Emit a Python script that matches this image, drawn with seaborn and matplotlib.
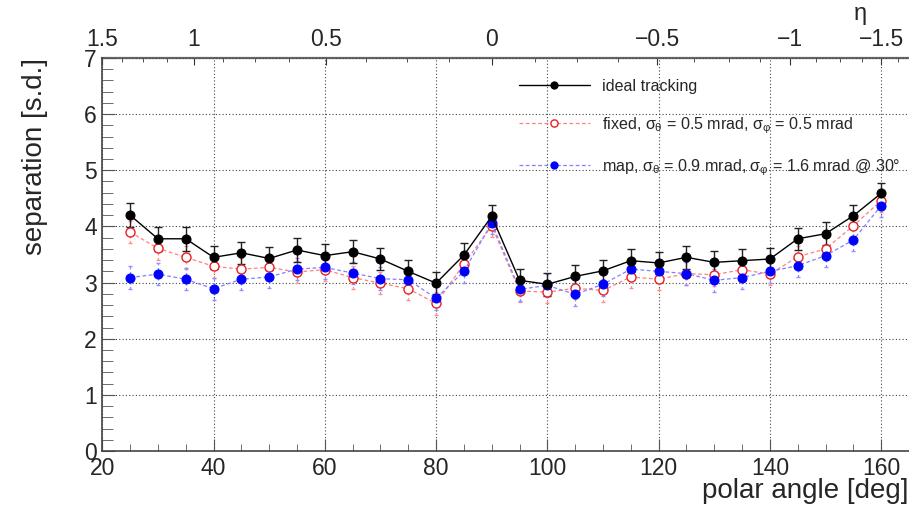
import numpy as np
import pandas as pd
import matplotlib
matplotlib.use("Agg")
import matplotlib.pyplot as plt
import seaborn as sns
from matplotlib.ticker import MultipleLocator, FixedLocator

# polar angle bins [deg]
theta = [25, 30, 35, 40, 45, 50, 55, 60, 65, 70, 75, 80, 85, 90, 95, 100,
         105, 110, 115, 120, 125, 130, 135, 140, 145, 150, 155, 160]

# separation [s.d.]
ideal = [4.20, 3.78, 3.78, 3.45, 3.53, 3.43, 3.58, 3.48, 3.55, 3.42, 3.20, 2.99,
         3.49, 4.18, 3.04, 2.97, 3.11, 3.21, 3.39, 3.35, 3.45, 3.36, 3.39, 3.42,
         3.78, 3.87, 4.19, 4.59]
ideal_err = [0.21, 0.21, 0.21, 0.20, 0.20, 0.20, 0.21, 0.20, 0.20, 0.20, 0.20, 0.20,
             0.21, 0.20, 0.20, 0.20, 0.20, 0.20, 0.21, 0.20, 0.20, 0.20, 0.20, 0.20,
             0.20, 0.20, 0.20, 0.19]

fixed = [3.90, 3.61, 3.45, 3.29, 3.24, 3.27, 3.19, 3.23, 3.09, 2.99, 2.89, 2.63,
         3.33, 4.01, 2.85, 2.83, 2.90, 2.86, 3.10, 3.06, 3.16, 3.14, 3.23, 3.15,
         3.46, 3.60, 4.01, 4.46]
fixed_err = [0.20, 0.20, 0.20, 0.20, 0.20, 0.20, 0.20, 0.20, 0.20, 0.20, 0.20, 0.20,
             0.20, 0.20, 0.20, 0.20, 0.20, 0.20, 0.20, 0.20, 0.20, 0.20, 0.20, 0.20,
             0.20, 0.20, 0.20, 0.20]

mapped = [3.09, 3.15, 3.06, 2.89, 3.06, 3.10, 3.24, 3.27, 3.17, 3.07, 3.05, 2.72,
          3.20, 4.06, 2.88, 2.95, 2.79, 2.97, 3.24, 3.20, 3.16, 3.04, 3.09, 3.20,
          3.30, 3.48, 3.76, 4.37]
mapped_err = [0.20, 0.20, 0.20, 0.20, 0.20, 0.20, 0.20, 0.20, 0.20, 0.20, 0.20, 0.20,
              0.20, 0.20, 0.20, 0.20, 0.20, 0.20, 0.20, 0.20, 0.20, 0.20, 0.20, 0.20,
              0.20, 0.20, 0.20, 0.20]

labels = ["ideal tracking",
          r"fixed, $\sigma_{\theta}$ = 0.5 mrad, $\sigma_{\varphi}$ = 0.5 mrad",
          r"map, $\sigma_{\theta}$ = 0.9 mrad, $\sigma_{\varphi}$ = 1.6 mrad @ 30°"]

eta_major = [1.5, 1.0, 0.5, 0.0, -0.5, -1.0, -1.5]
eta_major_labels = ["1.5", "1", "0.5", "0", "\u22120.5", "\u22121", "\u22121.5"]

sns.set_style("ticks")
plt.rcParams["font.family"] = ["Liberation Sans", "DejaVu Sans"]
plt.rcParams["mathtext.fontset"] = "custom"
plt.rcParams["mathtext.rm"] = "Liberation Sans"
plt.rcParams["mathtext.it"] = "Liberation Sans"

df = pd.DataFrame({"theta": theta, "ideal": ideal, "fixed": fixed, "mapped": mapped})

fig = plt.figure(figsize=(9.09, 5.08), dpi=100)
ax = fig.add_axes([0.1125, 0.112, 0.8875, 0.774])

# error bars first, lines + markers on top
ax.errorbar(theta, fixed, yerr=fixed_err, fmt="none", ecolor="#ff9090",
            elinewidth=0.9, capsize=1.5, zorder=2)
ax.errorbar(theta, mapped, yerr=mapped_err, fmt="none", ecolor="#9090ff",
            elinewidth=0.9, capsize=1.5, zorder=2)
for c in ax.collections:
    c.set_linestyle((0, (2, 2)))
ax.errorbar(theta, ideal, yerr=ideal_err, fmt="none", ecolor="#222222",
            elinewidth=1.0, capsize=3, zorder=3)

sns.lineplot(data=df, x="theta", y="ideal", ax=ax, color="black", lw=1.0,
             marker="o", markersize=6.5, markeredgecolor="black",
             markerfacecolor="black", label=labels[0], zorder=5)
sns.lineplot(data=df, x="theta", y="fixed", ax=ax, color="#ff8080", lw=0.9,
             linestyle=(0, (3, 2)), marker="o", markersize=6.5,
             markerfacecolor="white", markeredgecolor="#e82020",
             markeredgewidth=1.0, label=labels[1], zorder=4)
sns.lineplot(data=df, x="theta", y="mapped", ax=ax, color="#8080ff", lw=0.9,
             linestyle=(0, (3, 2)), marker="o", markersize=6.5,
             markerfacecolor="#0000ff", markeredgecolor="#0000ff",
             label=labels[2], zorder=4)

ax.set_xlim(20, 165)
ax.set_ylim(0, 7)
ax.xaxis.set_major_locator(MultipleLocator(20))
ax.xaxis.set_minor_locator(MultipleLocator(5))
ax.yaxis.set_major_locator(MultipleLocator(1))
ax.yaxis.set_minor_locator(MultipleLocator(0.2))
ax.grid(True, which="major", color="#444444", linestyle=(0, (1, 2)), lw=0.8)
ax.tick_params(axis="both", which="both", direction="in", labelsize=16.5,
               color="#555555")
ax.tick_params(axis="x", which="major", length=8.5, top=False, pad=4)
ax.tick_params(axis="x", which="minor", length=5, top=False)
ax.tick_params(axis="y", which="major", length=9, right=False, pad=4)
ax.tick_params(axis="y", which="minor", length=8, right=False)
for s in ["top", "right"]:
    ax.spines[s].set_visible(False)
for s in ["left", "bottom"]:
    ax.spines[s].set_color("#444444")
    ax.spines[s].set_linewidth(1.2)

ax.set_xlabel("polar angle [deg]", fontsize=20, loc="right", labelpad=-1)
ax.set_ylabel("separation [s.d.]", fontsize=20, loc="top", labelpad=26)

# pseudorapidity axis on top (scaled so eta=+-1.5 sits at 20/160 deg)
g15 = 90 - 2 * np.degrees(np.arctan(np.exp(-1.5)))


def th2eta(t):
    t = np.asarray(t, dtype=float)
    g = np.clip((90 - t) * g15 / 70.0, -89.0, 89.0)
    return -np.log(np.tan(np.radians(90 - g) / 2))


def eta2th(e):
    e = np.asarray(e, dtype=float)
    g = 90 - 2 * np.degrees(np.arctan(np.exp(-e)))
    return 90 - g * 70.0 / g15


top = ax.secondary_xaxis("top", functions=(th2eta, eta2th))
top.set_xticks(eta_major)
top.set_xticklabels(eta_major_labels)
top.xaxis.set_minor_locator(FixedLocator(np.arange(-1.625, 1.6, 0.125)))
top.tick_params(which="both", direction="in", labelsize=16.5, color="#333333")
top.tick_params(which="major", length=5, pad=5)
top.tick_params(which="minor", length=3)
top.spines["top"].set_color("#666666")
top.spines["top"].set_linewidth(1.6)
fig.text(0.947, 0.995, "\u03b7", fontsize=17, ha="center", va="top")

handles, labs = ax.get_legend_handles_labels()
ax.legend(handles, labs, loc="upper left", bbox_to_anchor=(0.562, 0.861),
          bbox_transform=fig.transFigure, frameon=False, fontsize=11.6,
          handlelength=4.4, handletextpad=0.75, labelspacing=1.33,
          borderpad=0, markerscale=0.8)

fig.savefig("out.png", dpi=100)
